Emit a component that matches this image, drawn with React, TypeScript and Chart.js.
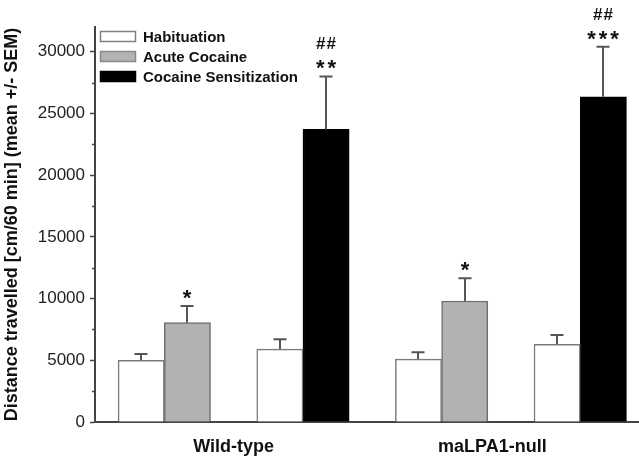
import React, { useEffect, useRef } from 'react';
import { Chart, registerables } from 'chart.js';

Chart.register(...registerables);

const FONT = "'Liberation Sans', Arial, sans-serif";

// group (x-axis) labels and their position on the slot axis
const groupLabels = ['Wild-type', 'maLPA1-null'];
const groupTickSlots = [3, 8.6];

const seriesLabels = ['Habituation', 'Acute Cocaine', 'Cocaine Sensitization'];

// slot index of each bar on the x axis
const habituationSlots = [1, 4, 7, 10];
const habituationMeans = [5000, 5900, 5100, 6300];
const habituationSem = [500, 800, 550, 750];

const acuteSlots = [2, 8];
const acuteMeans = [8050, 9800];
const acuteSem = [1350, 1850];

const sensitizationSlots = [5, 11];
const sensitizationMeans = [23700, 26350];
const sensitizationSem = [4300, 4050];

// significance marks
const habituationStars = ['', '', '', ''];
const acuteStars = ['*', '*'];
const sensitizationStars = ['**', '***'];
const habituationHashes = ['', '', '', ''];
const acuteHashes = ['', ''];
const sensitizationHashes = ['##', '##'];

// y axis ticks
const yTicks = [0, 5000, 10000, 15000, 20000, 25000, 30000];
const yMinorTicks = [2500, 7500, 12500, 17500, 22500, 27500];
const yMax = 32000;
const xMax = 11.75;

const semByDataset = [habituationSem, acuteSem, sensitizationSem];
const starsByDataset = [habituationStars, acuteStars, sensitizationStars];
const hashesByDataset = [habituationHashes, acuteHashes, sensitizationHashes];

const legendFill = ['#ffffff', '#b3b3b3', '#000000'];
const legendBorder = ['#808080', '#8a8a8a', '#000000'];

const overlayPlugin = {
  id: 'overlay',
  afterDatasetsDraw(chart: any) {
    const ctx = chart.ctx as CanvasRenderingContext2D;
    const yScale = chart.scales.y;
    const { left } = chart.chartArea;
    ctx.save();
    // minor ticks
    ctx.strokeStyle = '#444';
    ctx.lineWidth = 1.5;
    yMinorTicks.forEach((v) => {
      const py = Math.round(yScale.getPixelForValue(v)) + 0.5;
      ctx.beginPath();
      ctx.moveTo(left - 3, py);
      ctx.lineTo(left, py);
      ctx.stroke();
    });
    // error bars + marks
    chart.data.datasets.forEach((ds: any, di: number) => {
      const meta = chart.getDatasetMeta(di);
      meta.data.forEach((el: any, i: number) => {
        const mean = ds.data[i].y;
        const sem = semByDataset[di][i];
        const yTop = yScale.getPixelForValue(mean + sem);
        const cx = Math.round(el.x);
        ctx.strokeStyle = '#555';
        ctx.lineWidth = 2;
        ctx.beginPath();
        ctx.moveTo(cx, el.y);
        ctx.lineTo(cx, yTop);
        ctx.moveTo(cx - 6.5, yTop);
        ctx.lineTo(cx + 6.5, yTop);
        ctx.stroke();
        ctx.fillStyle = '#111';
        ctx.textAlign = 'center';
        ctx.textBaseline = 'alphabetic';
        const stars = starsByDataset[di][i];
        if (stars) {
          ctx.font = `bold 22px ${FONT}`;
          (ctx as any).letterSpacing = '3px';
          ctx.fillText(stars, cx + 1.5, yTop - 1);
        }
        const hashes = hashesByDataset[di][i];
        if (hashes) {
          ctx.font = `bold 17px ${FONT}`;
          (ctx as any).letterSpacing = '1px';
          ctx.fillText(hashes, cx + 0.5, yTop - 27);
        }
        (ctx as any).letterSpacing = '0px';
      });
    });
    ctx.restore();
  },
  afterDraw(chart: any) {
    const ctx = chart.ctx as CanvasRenderingContext2D;
    const { left, top } = chart.chartArea;
    ctx.save();
    chart.data.datasets.forEach((ds: any, di: number) => {
      const bx = left + 5.5;
      const by = top + 4.5 + di * 20;
      ctx.fillStyle = legendFill[di];
      ctx.fillRect(bx, by, 35, 10);
      ctx.strokeStyle = legendBorder[di];
      ctx.lineWidth = 1.5;
      ctx.strokeRect(bx, by, 35, 10);
      ctx.fillStyle = '#111';
      ctx.font = `bold 15px ${FONT}`;
      ctx.textAlign = 'left';
      ctx.textBaseline = 'middle';
      ctx.fillText(ds.label, left + 48, by + 6);
    });
    ctx.restore();
  },
};

function toPoints(slots: number[], values: number[]) {
  return slots.map((x, i) => ({ x, y: values[i] }));
}

export default function App() {
  const canvasRef = useRef<HTMLCanvasElement | null>(null);

  useEffect(() => {
    if (!canvasRef.current) return;
    const chart = new Chart(canvasRef.current, {
      type: 'bar',
      data: {
        datasets: [
          {
            label: seriesLabels[0],
            data: toPoints(habituationSlots, habituationMeans),
            backgroundColor: '#ffffff',
            borderColor: '#7a7a7a',
            borderWidth: 1.5,
          },
          {
            label: seriesLabels[1],
            data: toPoints(acuteSlots, acuteMeans),
            backgroundColor: '#b2b2b2',
            borderColor: '#6e6e6e',
            borderWidth: 1.5,
          },
          {
            label: seriesLabels[2],
            data: toPoints(sensitizationSlots, sensitizationMeans),
            backgroundColor: '#000000',
            borderColor: '#000000',
            borderWidth: 1.5,
          },
        ] as any,
      },
      options: {
        responsive: false,
        animation: false,
        events: [],
        layout: { padding: { top: 27, right: 1, left: 0, bottom: 0 } },
        datasets: {
          bar: { grouped: false, barPercentage: 1, categoryPercentage: 1 } as any,
        },
        plugins: {
          legend: { display: false },
          tooltip: { enabled: false },
        },
        scales: {
          x: {
            type: 'linear',
            min: 0,
            max: xMax,
            offset: false,
            grid: { display: false, drawTicks: false, offset: false },
            border: { display: true, color: '#444', width: 2 },
            afterBuildTicks: (scale: any) => {
              scale.ticks = groupTickSlots.map((v) => ({ value: v }));
            },
            afterFit: (scale: any) => {
              scale.height = 36;
            },
            ticks: {
              autoSkip: false,
              maxRotation: 0,
              padding: 14,
              color: '#111',
              font: { family: FONT, size: 18, weight: 'bold' },
              callback: (_v: any, index: number) => groupLabels[index],
            },
          } as any,
          y: {
            type: 'linear',
            min: 0,
            max: yMax,
            grid: {
              display: true,
              drawOnChartArea: false,
              drawTicks: true,
              tickLength: 5,
              tickColor: '#444',
              tickWidth: 1.5,
            },
            border: { display: true, color: '#444', width: 2 },
            afterBuildTicks: (scale: any) => {
              scale.ticks = yTicks.map((v) => ({ value: v }));
            },
            afterFit: (scale: any) => {
              scale.width = 95;
            },
            ticks: {
              autoSkip: false,
              padding: 5,
              color: '#222',
              font: { family: FONT, size: 17 },
              callback: (v: any) => String(v),
            },
            title: {
              display: true,
              text: 'Distance travelled [cm/60 min] (mean +/- SEM)',
              color: '#111',
              font: { family: FONT, size: 18, weight: 'bold' },
              padding: { top: 1, bottom: 0 },
            },
          } as any,
        },
      },
      plugins: [overlayPlugin],
    });
    return () => chart.destroy();
  }, []);

  return (
    <div style={{ position: 'absolute', left: 0, top: 0, width: 639, height: 458, background: '#fff' }}>
      <canvas ref={canvasRef} width={639} height={458} />
    </div>
  );
}
